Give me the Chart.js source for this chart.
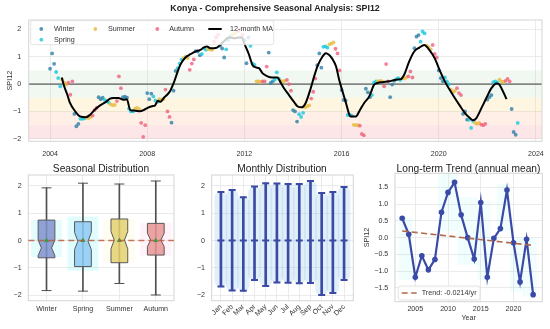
<!DOCTYPE html>
<html>
<head>
<meta charset="utf-8">
<script src="https://cdn.jsdelivr.net/npm/chart.js@4.4.1/dist/chart.umd.min.js"></script>
<style>
  body { margin: 0; background: #fff; }
  #page { position: relative; width: 550px; height: 329px; background: #fff; overflow: hidden;
          font-family: 'Liberation Sans', Arial, Helvetica, sans-serif; color: #222; }
  canvas { position: absolute; }
  .ttl { position: absolute; text-align: center; white-space: nowrap; }
</style>
</head>
<body>
<div id="page">
  <canvas id="topChart" width="550" height="163" style="left:0;top:0"></canvas>
  <canvas id="seasonChart" width="180" height="169" style="left:0;top:160px"></canvas>
  <canvas id="monthChart" width="185" height="169" style="left:180px;top:160px"></canvas>
  <canvas id="trendChart" width="188" height="169" style="left:362px;top:160px"></canvas>

  <div class="ttl" style="left:0;width:550px;top:2px;line-height:12px;font-size:8.8px;font-weight:bold">Konya - Comprehensive Seasonal Analysis: SPI12</div>
  <div class="ttl" style="left:28px;width:146px;top:162px;line-height:14px;font-size:10.2px">Seasonal Distribution</div>
  <div class="ttl" style="left:211px;width:142px;top:162px;line-height:14px;font-size:10.2px">Monthly Distribution</div>
  <div class="ttl" style="left:395px;width:147px;top:162px;line-height:14px;font-size:10.2px">Long-term Trend (annual mean)</div>
</div>

<script>
// ---- data ----
const seasons = ['Winter', 'Spring', 'Summer', 'Autumn'];
const seasonOfMonth = [0, 0, 1, 1, 1, 2, 2, 2, 3, 3, 3, 0]; // Jan..Dec

// monthly SPI12, first value is Dec 2003
const spiStartYear = 2003;
const spiStartMonth = 12;
const spiMonthly = [
  0.56,
  1.12, 0.74, 0.44, 0.22, -0.08, 0.16, 0.05, -0.02, 0.05, -0.39, 0.10, -1.09,
  -1.54, -1.45, -1.27, -1.27, -1.25, -1.22, -1.24, -1.20, -1.15, -0.95, -0.87, -0.48,
  -0.55, -0.50, -0.58, -0.62, -0.68, -0.74, -0.77, -0.76, -0.62, 0.28, -0.15, -0.48,
  -0.46, -0.50, -0.90, -1.00, -1.00, -0.90, -0.87, -0.92, -1.42, -1.93, -1.50, -0.33,
  -0.55, -0.35, -0.45, -0.60, -0.65, -0.55, -0.57, -0.55, -0.20, -1.00, -1.20, -1.41,
  -0.24, 0.48, 0.58, 0.75, 0.90, 0.95, 1.00, 0.95, 0.52, 0.75, 0.90, 1.20,
  1.19, 1.05, 1.10, 1.30, 1.25, 1.28, 1.27, 1.25, 1.55, 1.70, 1.80, 1.40,
  1.30, 0.97, 1.27, 1.60, 1.75, 1.80, 1.85, 1.90, 1.95, 2.00, 1.80, 1.60,
  0.76, 1.70, 1.40, 0.75, 0.70, 0.10, 0.10, 0.08, 0.10, 0.10, 0.64, 1.15,
  0.04, 0.10, 0.16, 0.43, 0.20, 0.12, 0.10, 0.12, 0.15, 0.00, -0.24, -0.95,
  -1.00, -1.37, -1.10, -1.20, -1.05, -0.85, -0.81, -0.78, -0.53, -0.28, 0.20, 0.69,
  1.12, 0.60, 1.36, 1.38, 1.33, 1.45, 1.48, 1.52, 1.29, 1.12, 0.50, -0.22,
  -0.58, -0.60, -1.13, -1.12, -1.15, -1.49, -1.50, -1.50, -1.52, -1.82, -1.87, -0.17,
  -0.30, -0.48, -0.40, 0.05, 0.10, 0.10, 0.12, 0.10, -0.08, 0.73, 0.10, -0.48,
  -0.02, 0.12, 0.18, 0.22, 0.15, 0.22, 0.20, 0.25, 0.28, 0.46, 0.24, 1.31,
  1.73, 1.79, 1.55, 1.92, 1.85, 1.40, 1.35, 1.27, 1.43, 1.10, 0.97, 0.50,
  0.22, 0.10, 0.24, 0.10, 0.00, -0.20, -0.29, -0.25, -0.15, -0.33, -0.40, -1.09,
  -1.00, -1.30, -1.30, -1.60, -1.35, -1.42, -1.45, -1.42, -1.48, -1.50, -1.45, -0.57,
  -0.48, -0.40, 0.07, 0.10, 0.05, 0.16, 0.10, 0.08, 0.12, 0.19, 0.10, -0.91,
  -1.75, -1.85, -1.42
];

// 12-month moving average
const maYears = [
  2004.48, 2004.58, 2004.71, 2004.82, 2005.03, 2005.23, 2005.48, 2005.65, 2005.85, 2006.06,
  2006.30, 2006.47, 2006.60, 2006.81, 2007.02, 2007.16, 2007.30, 2007.50, 2007.70, 2007.85,
  2008.06, 2008.20, 2008.32, 2008.44, 2008.54, 2008.68, 2008.82, 2008.95, 2009.09, 2009.23,
  2009.36, 2009.57, 2009.78, 2009.98, 2010.19, 2010.32, 2010.46, 2010.60, 2010.74, 2010.87,
  2011.00, 2011.15, 2011.28, 2011.42, 2011.60, 2011.75, 2011.90, 2011.97, 2012.05, 2012.19,
  2012.33, 2012.47, 2012.60, 2012.74, 2012.95, 2013.15, 2013.36, 2013.50, 2013.63, 2013.84,
  2014.04, 2014.18, 2014.36, 2014.52, 2014.73, 2014.87, 2015.03, 2015.21, 2015.35, 2015.48,
  2015.62, 2015.77, 2015.90, 2016.04, 2016.18, 2016.32, 2016.38, 2016.59, 2016.73, 2016.93,
  2017.14, 2017.34, 2017.48, 2017.69, 2017.96, 2018.24, 2018.44, 2018.58, 2018.78, 2018.99,
  2019.20, 2019.40, 2019.61, 2019.84, 2020.04, 2020.25, 2020.45, 2020.66, 2020.86, 2021.07,
  2021.28, 2021.41, 2021.55, 2021.76, 2021.96, 2022.17, 2022.38, 2022.47, 2022.58, 2022.79
];
const maValues = [
  0.24, -0.08, -0.39, -0.69, -0.99, -1.18, -1.21, -1.12, -0.93, -0.78,
  -0.65, -0.53, -0.51, -0.51, -0.57, -0.55, -0.95, -0.97, -0.99, -0.95,
  -0.85, -0.81, -0.78, -0.61, -0.65, -0.51, -0.39, -0.24, 0.04, 0.40,
  0.70, 0.97, 1.09, 1.19, 1.25, 1.33, 1.37, 1.31, 1.31, 1.33,
  1.43, 1.55, 1.67, 1.70, 1.67, 1.70, 1.70, 1.55, 1.37, 1.07,
  0.70, 0.61, 0.58, 0.40, 0.28, 0.24, 0.24, 0.04, -0.15, -0.41,
  -0.65, -0.81, -0.85, -0.69, -0.15, 0.28, 0.70, 1.00, 1.13, 1.07,
  0.92, 0.65, 0.16, -0.27, -0.69, -1.12, -1.18, -1.18, -0.99, -0.69,
  -0.45, -0.02, 0.04, 0.07, 0.10, 0.16, 0.18, 0.35, 0.82, 1.19,
  1.33, 1.43, 1.25, 0.93, 0.50, 0.10, -0.21, -0.51, -0.78, -1.05,
  -1.24, -1.32, -1.24, -0.87, -0.51, -0.15, 0.02, 0.00, -0.15, -0.55
];

const topYearTicks = [2004, 2008, 2012, 2016, 2020, 2024];
const spiTicks = [-2, -1, 0, 1, 2];
const droughtBands = [[-0.5, 0.5], [-1, -0.5], [-1.5, -1], [-2, -1.5]];

// seasonal box plot
const boxMin = [-1.83, -1.85, -1.57, -1.99];
const boxQ1 = [-0.63, -0.95, -0.81, -0.53];
const boxMedian = [-0.27, -0.02, 0.02, 0.02];
const boxQ3 = [0.75, 0.69, 0.79, 0.63];
const boxMax = [1.93, 2.10, 2.07, 2.18];
const notchLow = [-0.55, -0.33, -0.30, -0.22];
const notchHigh = [0.02, 0.30, 0.33, 0.27];
const seasonMean = [0.0, 0.0, 0.0, 0.0];
const haloLow = [-0.60, -1.10, -0.80, -0.55];
const haloHigh = [0.75, 0.88, 0.80, 0.63];

// monthly violins
const monthNames = ['Jan', 'Feb', 'Mar', 'Apr', 'May', 'Jun', 'Jul', 'Aug', 'Sep', 'Oct', 'Nov', 'Dec'];
const monthMax = [1.78, 1.85, 1.59, 1.98, 2.10, 2.09, 2.07, 2.07, 2.18, 1.74, 1.78, 1.96];
const monthMin = [-1.68, -1.83, -1.84, -1.44, -1.66, -1.53, -1.54, -1.56, -1.55, -1.99, -1.92, -1.44];
const monthMedian = [0, 0, 0, 0, 0, 0, 0, 0, 0, 0, 0, 0];

// annual means and trend
const trendYears = [2003, 2004, 2005, 2006, 2007, 2008, 2009, 2010, 2011, 2012, 2013,
                    2014, 2015, 2016, 2017, 2018, 2019, 2020, 2021, 2022, 2023];
const annualMean = [0.58, 0.10, -1.18, -0.54, -0.96, -0.65, 0.76, 1.35, 1.65, 0.68, 0.00,
                    -0.64, 1.05, -1.18, -0.02, 0.27, 1.42, -0.15, -1.32, -0.05, -1.70];
const trendFit = [0.20, -0.23];
const trendLabel = 'Trend: -0.0214/yr';
const spreadLow = [-1.25, -1.25, null, null, null, null, 0.2, 0.2, 0.2, -0.8, -0.8,
                   -0.8, -1.25, -1.25, null, 0.2, 0.2, -1.6, -1.6, -1.75, -1.75];
const spreadHigh = [0.6, 0.6, null, null, null, null, 1.9, 1.9, 1.9, 1.2, 1.2,
                    1.2, 1.1, 1.1, null, 1.6, 1.6, -0.1, 0.0, 0.0, 0.0];
const trendYearTicks = [2005, 2010, 2015, 2020];
const trendTicks = [-1.5, -1, -0.5, 0, 0.5, 1, 1.5];

// ---- styling ----
const seasonColors = ['rgba(46,126,168,0.8)', 'rgba(23,200,222,0.8)', 'rgba(232,190,70,0.85)', 'rgba(240,96,122,0.8)'];
const boxFill = ['rgba(128,146,204,0.85)', 'rgba(140,202,242,0.85)', 'rgba(228,208,112,0.85)', 'rgba(232,148,148,0.85)'];
const haloFill = ['rgba(0,230,240,0.10)', 'rgba(0,230,240,0.12)', 'rgba(255,235,150,0.12)', 'rgba(255,140,200,0.10)'];
const bandFill = ['rgba(165,214,167,0.16)', 'rgba(255,215,120,0.22)', 'rgba(255,175,135,0.2)', 'rgba(240,140,150,0.22)'];
const violetBlue = '#3a4aa6';
const FONT = "'Liberation Sans', Arial, Helvetica, sans-serif";

Chart.defaults.font.family = FONT;
Chart.defaults.font.size = 7.1;
Chart.defaults.color = '#333';
Chart.defaults.plugins.legend.display = false;
Chart.defaults.plugins.tooltip.enabled = false;

const minus = v => (v < 0 ? '\u2212' : '') + Math.abs(v);
const minus1 = v => (v < 0 ? '\u2212' : '') + Math.abs(v).toFixed(1);
const gridStyle = { color: '#e6e6e6', lineWidth: 0.8, drawTicks: false };
const fixTicks = list => s => { s.ticks = list.map(v => ({ value: v })); };
const fitW = w => s => { s.width = w; s.paddingTop = 0; s.paddingBottom = 0; };
const fitH = h => s => { s.height = h; s.paddingLeft = 0; s.paddingRight = 0; };

const framePlugin = {
  id: 'frame',
  afterDatasetsDraw(chart) {
    const { ctx, chartArea: a } = chart;
    ctx.save();
    ctx.strokeStyle = '#d4d4d4';
    ctx.lineWidth = 1;
    ctx.strokeRect(a.left, a.top, a.width, a.height);
    ctx.restore();
  }
};

// ---- top panel ----
const spiPoints = spiMonthly.map((v, i) => {
  const m = spiStartMonth - 1 + i;
  const mo = m % 12 + 1;
  return { x: spiStartYear + Math.floor(m / 12) + mo / 12, y: v, season: seasonOfMonth[mo - 1] };
});
const maPoints = maYears.map((x, i) => ({ x: x, y: maValues[i] }));

const bandsPlugin = {
  id: 'bands',
  beforeDatasetsDraw(chart) {
    const { ctx, chartArea: a, scales: { y } } = chart;
    ctx.save();
    droughtBands.forEach((b, i) => {
      const top = y.getPixelForValue(b[1]);
      const bot = y.getPixelForValue(b[0]);
      ctx.fillStyle = bandFill[i];
      ctx.fillRect(a.left, top, a.width, bot - top);
    });
    const y0 = y.getPixelForValue(0);
    ctx.strokeStyle = '#3a3a3a';
    ctx.lineWidth = 1;
    ctx.beginPath();
    ctx.moveTo(a.left, y0);
    ctx.lineTo(a.right, y0);
    ctx.stroke();
    ctx.restore();
  }
};

const topLegend = {
  id: 'topLegend',
  afterDatasetsDraw(chart) {
    const { ctx, chartArea: a } = chart;
    const L = a.left, T = a.top;
    ctx.save();
    ctx.fillStyle = 'rgba(255,255,255,0.8)';
    ctx.strokeStyle = '#dcdcdc';
    ctx.lineWidth = 0.8;
    ctx.beginPath();
    ctx.roundRect(L + 2, T + 0.7, 243, 24, 2);
    ctx.fill();
    ctx.stroke();
    const items = [
      { k: 0, mx: 12.6, tx: 25.3, row: 0 },
      { k: 1, mx: 12.6, tx: 25.3, row: 1 },
      { k: 2, mx: 66.6, tx: 79.3, row: 0 },
      { k: 3, mx: 128.6, tx: 140.6, row: 0 }
    ];
    ctx.font = '7.2px ' + FONT;
    ctx.textBaseline = 'middle';
    items.forEach(it => {
      const yy = T + 9 + it.row * 10.7;
      ctx.fillStyle = seasonColors[it.k];
      ctx.beginPath();
      ctx.arc(L + it.mx, yy, 1.9, 0, Math.PI * 2);
      ctx.fill();
      ctx.fillStyle = '#333';
      ctx.fillText(seasons[it.k], L + it.tx, yy);
    });
    ctx.strokeStyle = '#000';
    ctx.lineWidth = 2;
    ctx.beginPath();
    ctx.moveTo(L + 179.6, T + 9);
    ctx.lineTo(L + 193, T + 9);
    ctx.stroke();
    ctx.fillStyle = '#333';
    ctx.fillText('12-month MA', L + 201.3, T + 9);
    ctx.restore();
  }
};

new Chart(document.getElementById('topChart'), {
  type: 'scatter',
  data: {
    datasets: [
      { label: '12-month MA', data: maPoints, showLine: true, borderColor: '#000', borderWidth: 2,
        pointRadius: 0, cubicInterpolationMode: 'monotone', order: 0 },
      ...seasons.map((s, k) => ({
        label: s,
        data: spiPoints.filter(p => p.season === k),
        backgroundColor: seasonColors[k],
        borderWidth: 0,
        pointRadius: 1.9,
        order: 4 - k
      }))
    ]
  },
  options: {
    responsive: false, animation: false, devicePixelRatio: 1,
    layout: { padding: { top: 20, right: 8, left: 0, bottom: 0 } },
    scales: {
      x: {
        type: 'linear', min: 2003.12, max: 2024.25,
        afterBuildTicks: fixTicks(topYearTicks),
        ticks: { padding: 8, maxRotation: 0, autoSkip: false, callback: v => String(v) },
        grid: gridStyle, border: { display: false },
        afterFit: fitH(21.7)
      },
      y: {
        min: -2.09, max: 2.34,
        afterBuildTicks: fixTicks(spiTicks),
        ticks: { padding: 7.5, callback: minus },
        grid: gridStyle, border: { display: false },
        title: { display: true, text: 'SPI12', font: { size: 7.2 }, padding: { top: 5.5, bottom: 0 } },
        afterFit: fitW(28.7)
      }
    }
  },
  plugins: [bandsPlugin, framePlugin, topLegend]
});

// ---- seasonal box plot ----
const notchBoxes = {
  id: 'notchBoxes',
  afterDatasetDraw(chart, args) {
    if (args.index !== 2) return;
    const { ctx, scales: { x, y } } = chart;
    const step = x.getPixelForValue(1) - x.getPixelForValue(0);
    const hw = step * 0.23, nw = step * 0.14;
    ctx.save();
    seasons.forEach((s, i) => {
      const cx = x.getPixelForValue(i);
      const q3 = y.getPixelForValue(boxQ3[i]), q1 = y.getPixelForValue(boxQ1[i]);
      const nh = y.getPixelForValue(notchHigh[i]), nl = y.getPixelForValue(notchLow[i]);
      const md = y.getPixelForValue(boxMedian[i]);
      ctx.beginPath();
      ctx.moveTo(cx - hw, q3);
      ctx.lineTo(cx + hw, q3);
      ctx.lineTo(cx + hw, nh);
      ctx.lineTo(cx + nw, md);
      ctx.lineTo(cx + hw, nl);
      ctx.lineTo(cx + hw, q1);
      ctx.lineTo(cx - hw, q1);
      ctx.lineTo(cx - hw, nl);
      ctx.lineTo(cx - nw, md);
      ctx.lineTo(cx - hw, nh);
      ctx.closePath();
      ctx.fillStyle = boxFill[i];
      ctx.fill();
      ctx.strokeStyle = '#5a5a5a';
      ctx.lineWidth = 1;
      ctx.stroke();
    });
    ctx.restore();
  },
  afterDatasetsDraw(chart) {
    const { ctx, chartArea: a, scales: { y } } = chart;
    const y0 = y.getPixelForValue(0);
    ctx.save();
    ctx.strokeStyle = 'rgba(185,85,55,0.8)';
    ctx.lineWidth = 1.5;
    ctx.setLineDash([6, 4]);
    ctx.beginPath();
    ctx.moveTo(a.left, y0);
    ctx.lineTo(a.right, y0);
    ctx.stroke();
    ctx.restore();
  }
};

new Chart(document.getElementById('seasonChart'), {
  type: 'bar',
  data: {
    labels: seasons,
    datasets: [
      { data: seasons.map((s, i) => [haloLow[i], haloHigh[i]]), backgroundColor: haloFill,
        barPercentage: 0.85, categoryPercentage: 1, grouped: false, order: 10 },
      { data: seasons.map((s, i) => [boxMin[i], boxMax[i]]), backgroundColor: '#505050',
        barThickness: 1, grouped: false, order: 9 },
      { type: 'line', data: boxMax, showLine: false, pointStyle: 'line', pointRadius: 5,
        borderColor: '#505050', borderWidth: 1, order: 7 },
      { type: 'line', data: boxMin, showLine: false, pointStyle: 'line', pointRadius: 5,
        borderColor: '#505050', borderWidth: 1, order: 8 },
      { type: 'line', data: seasonMean, showLine: false, pointStyle: 'triangle', pointRadius: 3,
        backgroundColor: '#3f9a45', borderColor: '#3f9a45', borderWidth: 0, order: 1 }
    ]
  },
  options: {
    responsive: false, animation: false, devicePixelRatio: 1,
    layout: { padding: { top: 15, right: 6, left: 0, bottom: 0 } },
    scales: {
      x: {
        ticks: { padding: 4.4, maxRotation: 0, autoSkip: false },
        grid: Object.assign({ offset: false }, gridStyle), border: { display: false },
        afterFit: fitH(28.3)
      },
      y: {
        min: -2.2, max: 2.4,
        afterBuildTicks: fixTicks(spiTicks),
        ticks: { padding: 6.6, callback: minus },
        grid: gridStyle, border: { display: false },
        afterFit: fitW(28.3)
      }
    }
  },
  plugins: [framePlugin, notchBoxes]
});

// ---- monthly violins ----
const monthRange = monthNames.map((m, i) => ({ x: i + 1, y: [monthMin[i], monthMax[i]] }));
new Chart(document.getElementById('monthChart'), {
  type: 'bar',
  data: {
    datasets: [
      { data: monthRange, backgroundColor: 'rgba(140,192,232,0.26)', barThickness: 12,
        borderRadius: 6, borderSkipped: false, grouped: false, order: 10 },
      { data: monthRange, backgroundColor: violetBlue, barThickness: 2, grouped: false, order: 5 },
      { type: 'scatter', data: monthNames.map((m, i) => ({ x: i + 1, y: monthMax[i] })),
        pointStyle: 'line', pointRadius: 3.5, borderColor: violetBlue, borderWidth: 2, order: 2 },
      { type: 'scatter', data: monthNames.map((m, i) => ({ x: i + 1, y: monthMin[i] })),
        pointStyle: 'line', pointRadius: 3.5, borderColor: violetBlue, borderWidth: 2, order: 3 },
      { type: 'scatter', data: monthNames.map((m, i) => ({ x: i + 1, y: monthMedian[i] })),
        pointStyle: 'line', pointRadius: 3.5, borderColor: violetBlue, borderWidth: 2, order: 1 }
    ]
  },
  options: {
    responsive: false, animation: false, devicePixelRatio: 1,
    layout: { padding: { top: 15, right: 11.7, left: 0, bottom: 0 } },
    scales: {
      x: {
        type: 'linear', min: 0.175, max: 12.825, offset: false,
        afterBuildTicks: fixTicks(monthNames.map((m, i) => i + 1)),
        ticks: { padding: 2, minRotation: 45, maxRotation: 45, autoSkip: false,
                 callback: v => monthNames[v - 1] },
        grid: Object.assign({ offset: false }, gridStyle), border: { display: false },
        afterFit: fitH(28.3)
      },
      y: {
        min: -2.2, max: 2.4,
        afterBuildTicks: fixTicks(spiTicks),
        ticks: { padding: 6.7, callback: minus },
        grid: gridStyle, border: { display: false },
        afterFit: fitW(31.7)
      }
    }
  },
  plugins: [framePlugin]
});

// ---- long-term trend ----
const trendLegend = {
  id: 'trendLegend',
  afterDatasetsDraw(chart) {
    const { ctx, chartArea: a } = chart;
    const L = a.left, B = a.bottom;
    ctx.save();
    ctx.fillStyle = 'rgba(255,255,255,0.8)';
    ctx.strokeStyle = '#dcdcdc';
    ctx.lineWidth = 0.8;
    ctx.beginPath();
    ctx.roundRect(L + 3.3, B - 15.7, 81.7, 14, 2);
    ctx.fill();
    ctx.stroke();
    ctx.strokeStyle = '#b06a48';
    ctx.lineWidth = 1.6;
    ctx.setLineDash([6, 3.5]);
    ctx.beginPath();
    ctx.moveTo(L + 6.7, B - 8.7);
    ctx.lineTo(L + 21.7, B - 8.7);
    ctx.stroke();
    ctx.setLineDash([]);
    ctx.fillStyle = '#333';
    ctx.font = '7.2px ' + FONT;
    ctx.textBaseline = 'middle';
    ctx.fillText(trendLabel, L + 26.7, B - 8.7);
    ctx.restore();
  }
};

new Chart(document.getElementById('trendChart'), {
  type: 'line',
  data: {
    datasets: [
      { data: trendYears.map((x, i) => ({ x: x, y: annualMean[i] })), borderColor: violetBlue,
        backgroundColor: violetBlue, borderWidth: 2.2, pointRadius: 2.8, pointBorderWidth: 0, order: 1 },
      { data: [{ x: trendYears[0], y: trendFit[0] }, { x: trendYears[trendYears.length - 1], y: trendFit[1] }],
        borderColor: '#b06a48', borderWidth: 1.6, borderDash: [6, 3.5], pointRadius: 0, order: 0 },
      { type: 'bar', data: trendYears.map((x, i) => ({ x: x, y: spreadLow[i] === null ? null : [spreadLow[i], spreadHigh[i]] })),
        backgroundColor: 'rgba(0,235,235,0.05)', barPercentage: 1, categoryPercentage: 1, order: 5 }
    ]
  },
  options: {
    responsive: false, animation: false, devicePixelRatio: 1,
    layout: { padding: { top: 13.3, right: 7.7, left: 0, bottom: 0 } },
    scales: {
      x: {
        type: 'linear', min: 2001.9, max: 2024.4, offset: false,
        afterBuildTicks: fixTicks(trendYearTicks),
        ticks: { padding: 3.1, maxRotation: 0, autoSkip: false, callback: v => String(v) },
        grid: Object.assign({ offset: false }, gridStyle), border: { display: false },
        title: { display: true, text: 'Year', font: { size: 7.2 }, padding: { top: 0, bottom: 6.5 } },
        afterFit: fitH(27.3)
      },
      y: {
        min: -1.91, max: 1.92,
        afterBuildTicks: fixTicks(trendTicks),
        ticks: { padding: 6.7, callback: minus1 },
        grid: gridStyle, border: { display: false },
        title: { display: true, text: 'SPI12', font: { size: 7.2 }, padding: { top: 0.5, bottom: 0 } },
        afterFit: fitW(33)
      }
    }
  },
  plugins: [framePlugin, trendLegend]
});
</script>
</body>
</html>
